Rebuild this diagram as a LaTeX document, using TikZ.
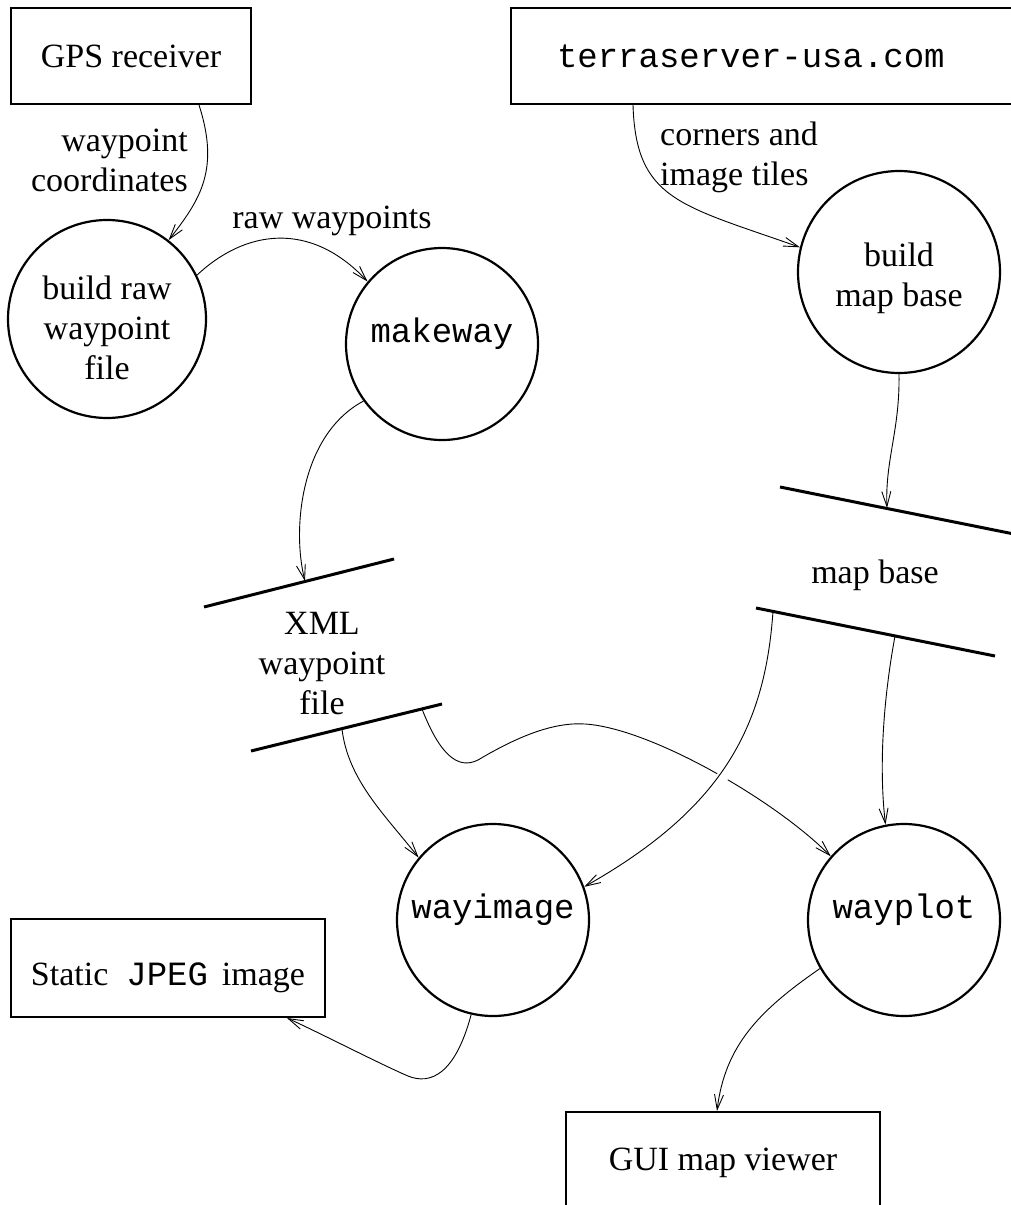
\documentclass[tikz,border=0pt]{standalone}
\usepackage{fontspec}
\setmainfont{Liberation Serif}
\setmonofont{Liberation Mono}
\usetikzlibrary{arrows.meta,calc}
\begin{document}
\begin{tikzpicture}[x=1pt,y=-1pt,
  every node/.style={font=\fontsize{34}{40}\selectfont},
  ext/.style={draw, line width=2pt, rectangle, minimum height=96pt, inner sep=0pt},
  proc/.style={draw, line width=2.2pt, circle, inner sep=0pt, align=center},
  ttproc/.style={proc, font=\fontsize{34}{40}\selectfont\ttfamily, text height=10pt, text depth=13pt},
  storeline/.style={line width=3pt},
  flow/.style={line width=0.9pt, -{Straight Barb[length=15pt,width=9pt]}},
  lbl/.style={inner sep=0pt}
]
\fill[white] (0,0) rectangle (1010,1205);
\useasboundingbox (0,0) rectangle (1010,1205);

% external entities
\node[ext, minimum width=240pt] (gps) at (131,56) {GPS receiver\hspace{8pt}};
\node[ext, anchor=west, inner xsep=46pt, text width=430pt, align=left] (terra) at (510,56) {\ttfamily terraserver-usa.com};
\node[ext, minimum width=314pt, minimum height=98pt, text height=40pt, text depth=6pt] (static) at (168,968) {Static\hspace{18pt}\texttt{JPEG}\hspace{14pt}image};
\node[ext, minimum width=314pt, text height=27pt, text depth=7pt] (gui) at (723,1160) {GUI map viewer};

% processes
\node[proc, minimum size=198pt] (raw) at (107,319) {\rule{0pt}{41pt}build raw\\waypoint\\file};
\node[ttproc, minimum size=192pt] (makeway) at (442,344) {makeway};
\node[proc, minimum size=202pt] (mapb) at (899,272) {\rule{0pt}{37pt}build\\map base};
\node[ttproc, minimum size=192pt] (wayimage) at (493,920) {wayimage};
\node[ttproc, minimum size=192pt] (wayplot) at (904,920) {wayplot};

% data stores
\node[lbl, align=center] (xml) at (322,664) {XML\\waypoint\\file};
\draw[storeline] (204,607) -- (394,559);
\draw[storeline] (251,751) -- (442,704);
\node[lbl] (mapstore) at (875,575) {map base};
\draw[storeline] (780,487) -- (1019,535);
\draw[storeline] (756,608) -- (995,656);
\coordinate (xmlin) at (305,581);
\coordinate (xmlout1) at (342,729);
\coordinate (xmlout2) at (422,709);
\coordinate (mapin) at (887,508);
\coordinate (mapout1) at (773,611);
\coordinate (mapout2) at (895,636);

% flows
\draw[flow] ($(gps.south west)+(189,0)$) .. controls (220,170) and (200,200) .. (raw.52.7);
\node[lbl, align=right, anchor=east] (l1) at (188,160) {waypoint\\coordinates};

\draw[flow] (raw.26.3) .. controls (245,230) and (310,220) .. (makeway.140.4);
\node[lbl, anchor=base] (l2) at (332,228) {raw waypoints};

\draw[flow] (makeway.216.1) .. controls (300,435) and (292,530) .. (xmlin);

\draw[flow] ($(terra.south west)+(123,0)$) .. controls (636,200) and (680,205) .. (mapb.166.1);
\node[lbl, align=left, anchor=west] (l3) at (660,157) {corners and\\image tiles};

\draw[flow] (mapb.270) .. controls (900,430) and (885,460) .. (mapin);

\draw[flow] (xmlout1) .. controls (348,780) and (385,815) .. (wayimage.140.6);
\draw[flow] (xmlout2) .. controls (440,755) and (458,770) .. (478,760)
  .. controls (520,735) and (555,722) .. (585,724)
  .. controls (650,728) and (775,800) .. (wayplot.139.5);
\draw[flow, preaction={draw=white, line width=12pt, arrows=-, shorten <=30pt, shorten >=30pt}]
  (mapout1) .. controls (765,730) and (720,810) .. (wayimage.20.6);
\draw[flow] (mapout2) .. controls (885,690) and (878,760) .. (wayplot.101.4);

\draw[flow] (wayimage.257.7) .. controls (455,1075) and (430,1085) .. (408,1076)
  .. controls (380,1064) and (320,1033) .. ($(static.south west)+(277,0)$);
\draw[flow] (wayplot.210.4) .. controls (760,1010) and (725,1045) .. ($(gui.north west)+(152,0)$);
\end{tikzpicture}
\end{document}
